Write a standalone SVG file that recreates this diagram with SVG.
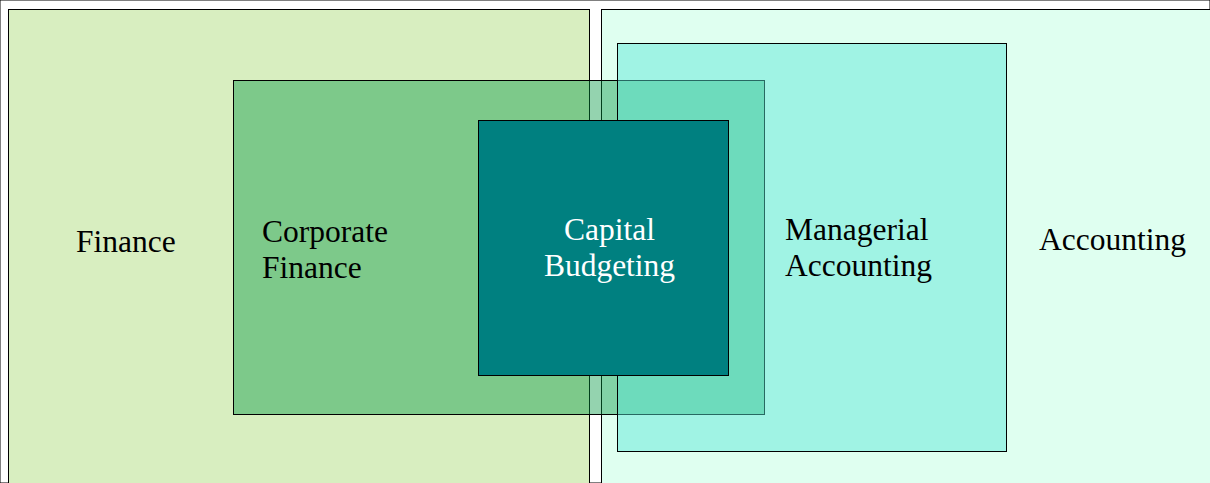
<svg xmlns="http://www.w3.org/2000/svg" width="1210" height="483" viewBox="0 0 1210 483">
  <style>
    rect { stroke: #000; stroke-width: 1; }
    text { font-family: "Liberation Serif", "Times New Roman", serif; font-size: 31.5px; fill: #000; }
    .light { fill: #fff; }
    .mid { text-anchor: middle; }
  </style>
  <rect width="1210" height="483" fill="#fff" stroke="none"/>

  <!-- outer fields -->
  <g id="finance">
    <rect x="8.5" y="9.5" width="581" height="500" fill="#D8EEC0"/>
    <text x="76" y="252">Finance</text>
  </g>
  <g id="accounting">
    <rect x="601.5" y="9.5" width="700" height="500" fill="#DFFFF0"/>
    <text x="1039" y="250">Accounting</text>
  </g>

  <!-- sub-fields, translucent so the overlaps show through -->
  <g id="corporate-finance">
    <rect x="233.5" y="80.5" width="531" height="334" fill="#009641" fill-opacity="0.42" stroke="#222"/>
    <text x="262" y="242">Corporate</text>
    <text x="262" y="278">Finance</text>
  </g>
  <g id="managerial-accounting">
    <rect x="617.5" y="43.5" width="389" height="408" fill="#55E5D6" fill-opacity="0.46"/>
    <text x="785" y="240">Managerial</text>
    <text x="785" y="276">Accounting</text>
  </g>

  <!-- shared core -->
  <g id="capital-budgeting">
    <rect x="478.5" y="120.5" width="250" height="255" fill="#008080"/>
    <text class="light mid" x="609.5" y="240">Capital</text>
    <text class="light mid" x="609.5" y="276">Budgeting</text>
  </g>

  <g id="connectors"></g>
</svg>
